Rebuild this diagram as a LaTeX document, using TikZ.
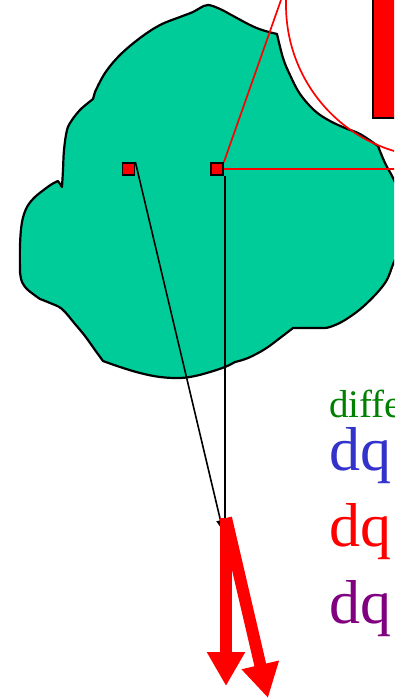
\documentclass[tikz,border=0pt]{standalone}
\usepackage{fontspec}
\setmainfont{Liberation Serif}
\usetikzlibrary{arrows.meta}
\definecolor{blobgreen}{RGB}{0,204,153}
\definecolor{txtgreen}{RGB}{0,128,0}
\definecolor{txtblue}{RGB}{51,51,204}
\definecolor{txtpurple}{RGB}{128,0,128}
\tikzset{
  marker/.style={draw=black,fill=red,line width=1.8pt,minimum size=12pt,inner sep=0pt,rectangle},
  conn/.style={draw=black,line width=1.6pt,-{Triangle[length=11pt,width=8pt]}},
  redline/.style={draw=red,line width=1.7pt},
  bigarrow/.style={draw=red,line width=12pt,-{Triangle[length=34pt,width=36pt]}},
  lbl/.style={anchor=base west,inner sep=0pt,outer sep=0pt}
}
\begin{document}
\begin{tikzpicture}[x=1pt,y=-1pt]
\useasboundingbox (0,0) rectangle (394,700);
\clip (0,0) rectangle (394,700);
% blob
\draw[fill=blobgreen,line width=2.2pt,line join=round]
  plot[smooth,tension=0.6] coordinates {(95,92) (105,73) (120,55) (140,38) (160,25) (180,17) (193,12) (200,8) (208,5) (220,9) (235,17) (250,25) (262,30) (277,34)}
  -- plot[smooth,tension=0.6] coordinates {(277,34) (283,58) (290,75) (300,94) (315,111) (330,121) (345,128) (360,134) (378,146)}
  -- plot[smooth,tension=0.6] coordinates {(378,146) (385,163) (394,180) (404,205) (406,235) (394,262) (385,283) (365,305) (345,320) (330,327) (322,328)}
  -- (293,328)
  -- plot[smooth,tension=0.6] coordinates {(293,328) (280,338) (265,349) (248,358) (235,362)}
  -- plot[smooth,tension=0.6] coordinates {(235,362) (225,367) (210,372) (195,376) (180,378) (160,377) (140,373) (120,367) (103,361)}
  -- plot[smooth,tension=0.6] coordinates {(103,361) (95,350) (85,336) (75,324) (62,309) (50,303) (40,299)}
  -- plot[smooth,tension=0.6] coordinates {(40,299) (28,290) (22,282) (20,272)}
  -- plot[smooth,tension=0.6] coordinates {(20,272) (20,245) (22,222) (27,207) (35,197) (45,189) (52,184) (58,181)}
  -- (62,187)
  -- plot[smooth,tension=0.6] coordinates {(62,187) (63,170) (64,150) (67,130) (72,120) (80,110) (88,103) (93,99)}
  -- cycle;
% red ellipse and rectangle
\draw[redline] (436,5) ellipse[x radius=150pt,y radius=152pt];
\draw[fill=red,draw=black,line width=2.2pt] (373,-5) rectangle (400,118);
% markers
\node[marker] (sq1) at (128.5,169) {};
\node[marker] (sq2) at (217,169) {};
% red lines from marker 2
\coordinate (topend) at (281,0);
\coordinate (rightend) at (400,169);
\draw[redline] (sq2.north east) -- (topend);
\draw[redline] (sq2.east) -- (rightend);
% black connectors
\coordinate (tip1) at (223,531);
\coordinate (tip2) at (225,529);
\coordinate (s2b) at (225,176);
\draw[conn] (sq1.north east) -- (tip1);
\draw[conn] (s2b) -- (tip2);
% big red arrows
\coordinate (rtop) at (226,518);
\coordinate (rend1) at (226,686);
\coordinate (rend2) at (268,698);
\draw[bigarrow] (rtop) -- (rend1);
\draw[bigarrow] (rtop) -- (rend2);
% texts
\node[lbl,text=txtgreen,font=\fontsize{39}{39}\selectfont] (t0) at (329,417) {diffe};
\node[lbl,text=txtblue,font=\fontsize{62}{62}\selectfont] (t1) at (329,470) {dq};
\node[lbl,text=red,font=\fontsize{62}{62}\selectfont] (t2) at (329,546) {dq};
\node[lbl,text=txtpurple,font=\fontsize{62}{62}\selectfont] (t3) at (329,623) {dq};
\end{tikzpicture}
\end{document}
